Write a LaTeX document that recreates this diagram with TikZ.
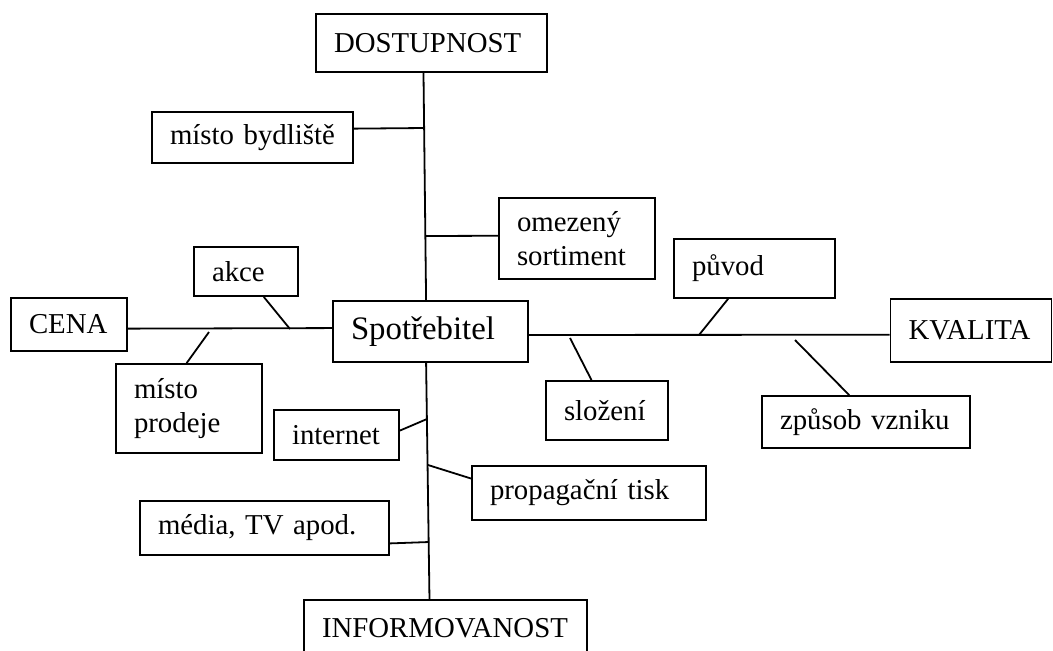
\documentclass[tikz,border=0pt]{standalone}
\usepackage{fontspec}
\setmainfont{Liberation Serif}
\usepackage{tikz}
\usetikzlibrary{calc}

\begin{document}
\begin{tikzpicture}[
 x=0.5pt,y=-0.5pt,line width=0.9pt,
 box/.style={draw,inner xsep=9pt,inner ysep=0pt,align=left,font=\fontsize{14.4}{16.8}\selectfont}
]
\fill[white] (0,0) rectangle (1053,650);
\useasboundingbox (0,0) rectangle (1053,650);
% main factors
\node[box,text width=97.5pt,minimum height=29pt] (dost) at (431.5,43) {DOSTUPNOST};
\node[box,text width=40pt,minimum height=26.5pt] (cena) at (69,324.5) {CENA};
\node[box,text width=79.5pt,minimum height=30.5pt,font=\fontsize{16.4}{19}\selectfont] (spot) at (430.5,331.5) {Spotřebitel};
\node[box,text width=62.5pt,minimum height=31.5pt] (kval) at (971,330.5) {KVALITA};
\node[box,text width=123.5pt,minimum height=28pt] (info) at (445.5,628) {INFORMOVANOST};
% sub-factors
\node[box,text width=82.5pt,minimum height=25.5pt] (bydl) at (252.5,137.5) {místo bydliště};
\node[box,text width=60pt,minimum height=40.5pt] (sort) at (577,238.5) {omezený\\sortiment};
\node[box,text width=34pt,minimum height=24.5pt] (akce) at (246,271.5) {akce};
\node[box,text width=55pt,minimum height=44.5pt] (prod) at (189,408.5) {místo\\prodeje};
\node[box,text width=62.5pt,minimum height=29.5pt] (puv) at (754.5,268.5) {původ};
\node[box,text width=43pt,minimum height=29.5pt] (slo) at (607,410.5) {složení};
\node[box,text width=86pt,minimum height=26pt] (vzn) at (866,422) {způsob vzniku};
\node[box,text width=44.5pt,minimum height=25pt] (int) at (336.5,435) {internet};
\node[box,text width=99pt,minimum height=27pt] (tisk) at (589,493) {propagační tisk};
\node[box,text width=106.5pt,minimum height=27pt] (media) at (264.5,528) {média, TV apod.};
% spines
\draw (dost.-105) -- (spot.98);
\draw (cena.-4) -- (spot.178);
\draw (spot.-2) -- (kval.183);
\draw (spot.-98) -- (info.119);
% branch ends
\coordinate (jbydl) at (424,128);
\coordinate (jsort) at (425.5,236);
\coordinate (jakce) at (290,329);
\coordinate (jprod) at (209,332);
\coordinate (jpuv) at (699,335);
\coordinate (jslo) at (570,338);
\coordinate (jvzn) at (795,340);
\coordinate (jint) at (427,419);
\coordinate (jtisk) at (428,465);
\coordinate (jmed) at (429,542);
\foreach \n/\a/\j in {bydl/5/jbydl,sort/178/jsort,akce/-55/jakce,prod/93/jprod,puv/-131/jpuv,slo/117/jslo,vzn/122/jvzn,int/4/jint,tisk/173/jtisk,media/-7/jmed}
 \draw (\n.\a) -- (\j);
\end{tikzpicture}
\end{document}
